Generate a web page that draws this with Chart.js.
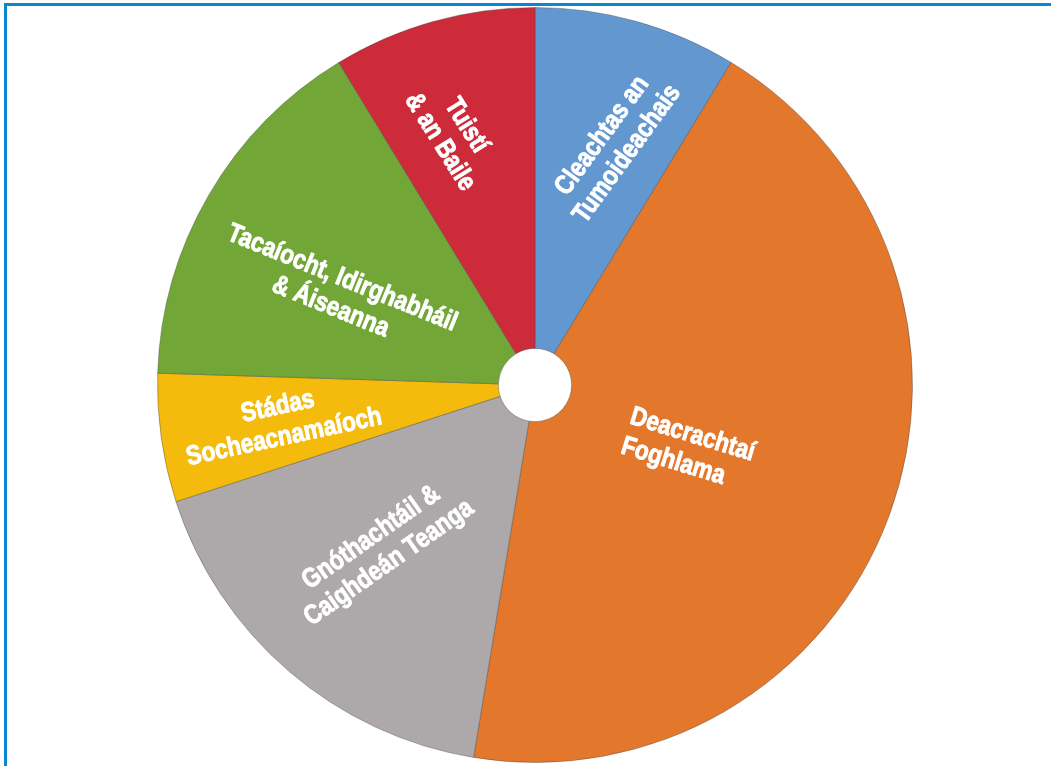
<!DOCTYPE html>
<html>
<head>
<meta charset="utf-8">
<script src="https://cdn.jsdelivr.net/npm/chart.js@4"></script>
<style>
    body { margin: 0; background: #fff; }
    #wrap { position: relative; width: 1051px; height: 766px; overflow: hidden; }
    #frame { position: absolute; left: 4px; top: 3px; right: -10px; bottom: -10px; border-top: 3px solid #0a87cf; border-left: 3px solid #0a87cf; }
    canvas { position: absolute; left: 0; top: 0; }
</style>
</head>
<body>
<div id="wrap"><canvas id="pie"></canvas><div id="frame"></div></div>
<script>
// slices, clockwise from 12 o'clock
const categories = [
    "Cleachtas an Tumoideachais",
    "Deacrachtaí Foghlama",
    "Gnóthachtáil & Caighdeán Teanga",
    "Stádas Socheacnamaíoch",
    "Tacaíocht, Idirghabháil & Áiseanna",
    "Tuistí & an Baile",
];
const labelLines = [
    ["Cleachtas an", "Tumoideachais"],
    ["Deacrachtaí", "Foghlama"],
    ["Gnóthachtáil &", "Caighdeán Teanga"],
    ["Stádas", "Socheacnamaíoch"],
    ["Tacaíocht, Idirghabháil", "& Áiseanna"],
    ["Tuistí", "& an Baile"],
];
const shares = [8.7, 43.9, 17.4, 5.5, 15.8, 8.7];
const sliceColors = ["#6397d0", "#e3782c", "#ada8a9", "#f4bb0c", "#72a636", "#cd2a3a"];

// where each label sits inside its slice (shift in deg from mid angle, r as share of radius, rot in deg)
const labelPlace = [
    { shift: 2.7, r: 0.67, rot: -54, align: "center" },
    { shift: 2.6, r: 0.44, rot: 17, align: "left" },
    { shift: 2.5, r: 0.60, rot: -35, align: "center" },
    { shift: -0.2, r: 0.68, rot: -12, align: "center" },
    { shift: -5.3, r: 0.58, rot: 22, align: "center" },
    { shift: -2.4, r: 0.70, rot: 58, align: "center" },
];

const sliceLabels = {
    id: "sliceLabels",
    afterDatasetsDraw(chart) {
        const ctx = chart.ctx;
        const arcs = chart.getDatasetMeta(0).data;
        ctx.save();
        ctx.fillStyle = "#fff";
        ctx.strokeStyle = "#fff";
        ctx.lineWidth = 0.9;
        ctx.lineJoin = "round";
        ctx.font = "bold 27px 'Liberation Sans', Arial, sans-serif";
        ctx.textBaseline = "middle";
        arcs.forEach((arc, i) => {
            const p = labelPlace[i];
            const mid = (arc.startAngle + arc.endAngle) / 2 + p.shift * Math.PI / 180;
            const r = arc.outerRadius * p.r;
            ctx.save();
            ctx.translate(arc.x + Math.cos(mid) * r, arc.y + Math.sin(mid) * r);
            ctx.rotate(p.rot * Math.PI / 180);
            ctx.scale(0.84, 1); // squeeze to a condensed look
            const lines = labelLines[i];
            const lh = 31;
            const w = Math.max(...lines.map(l => ctx.measureText(l).width));
            lines.forEach((l, j) => {
                const yy = (j - (lines.length - 1) / 2) * lh;
                let xx = 0;
                if (p.align === "left") {
                    ctx.textAlign = "left";
                    xx = -w / 2;
                } else {
                    ctx.textAlign = "center";
                }
                ctx.fillText(l, xx, yy);
                ctx.strokeText(l, xx, yy);
            });
            ctx.restore();
        });
        ctx.restore();
    },
};

const pieChart = new Chart(document.getElementById("pie"), {
    type: "doughnut",
    data: {
        labels: categories,
        datasets: [{
            data: shares,
            backgroundColor: sliceColors,
            borderColor: "rgba(70, 70, 70, 0.4)",
            borderWidth: 1,
        }],
    },
    options: {
        responsive: true,
        maintainAspectRatio: false,
        animation: false,
        cutout: "9.7%",
        plugins: {
            legend: { display: false },
            tooltip: { enabled: false },
        },
        layout: {
            padding: { left: 157, right: 138, top: 7, bottom: 3 },
        },
    },
    plugins: [sliceLabels],
});
</script>
</body>
</html>
